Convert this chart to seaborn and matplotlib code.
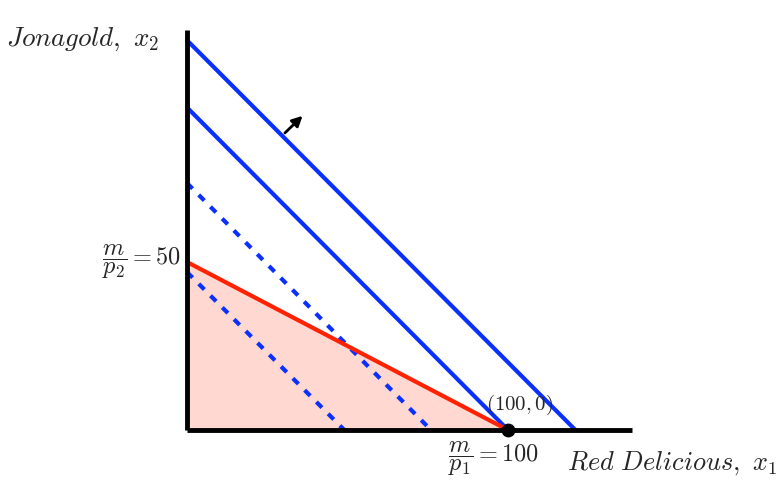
import matplotlib
matplotlib.use("Agg")
import matplotlib.pyplot as plt
import seaborn as sns
import numpy as np
import pandas as pd

# Data (in goods units)
budget_x = [0, 100]          # m/p1 = 100
budget_y = [50, 0]           # m/p2 = 50
# indifference lines: (x-intercept, y-intercept)
ic_solid = [(100, 96), (121, 116)]
ic_dashed = [(49, 47), (76, 73.5)]
axis_xmax = 138.5
axis_ymax = 119
opt_point = (100, 0)

sns.set_style("white")
plt.rcParams["mathtext.fontset"] = "cm"
plt.rcParams["font.family"] = ["DejaVu Serif"]

fig = plt.figure(figsize=(7.79, 4.83), dpi=100)
ax = fig.add_axes([0, 0, 1, 1])
ax.set_xlim(-187 / 3.21, (779 - 187) / 3.21)
ax.set_ylim((430 - 483) / 3.36, 430 / 3.36)
ax.axis("off")

red = "#ff2200"
blue = "#0a30ff"

# shaded budget set
ax.fill_between(budget_x, budget_y, 0, color="#ffd8d2", zorder=1, lw=0)

# indifference curves
for xi, yi in ic_dashed:
    df = pd.DataFrame({"x": [0, xi], "y": [yi, 0]})
    sns.lineplot(data=df, x="x", y="y", ax=ax, color=blue, lw=3.0,
                 linestyle=(0, (1.9, 2.1)), zorder=2)
for xi, yi in ic_solid:
    df = pd.DataFrame({"x": [0, xi], "y": [yi, 0]})
    sns.lineplot(data=df, x="x", y="y", ax=ax, color=blue, lw=3.0, zorder=2)

# budget line
sns.lineplot(x=budget_x, y=budget_y, ax=ax, color=red, lw=3.0, zorder=3)

# axes
ax.plot([0, axis_xmax], [0, 0], color="black", lw=3.5, zorder=4, solid_capstyle="butt")
ax.plot([0, 0], [0, axis_ymax], color="black", lw=3.5, zorder=4, solid_capstyle="butt")

# optimum point
ax.scatter([opt_point[0]], [opt_point[1]], s=80, color="black", zorder=5)

# arrow
ax.annotate("", xy=(36.0, 93.5), xytext=(30.5, 88.4),
            arrowprops=dict(arrowstyle="-|>,head_length=0.55,head_width=0.28",
                            color="black", lw=2.0, mutation_scale=11,
                            shrinkA=0, shrinkB=0))

fs = 19.5
ax.text(-56.5, 116.3, r"$Jonagold,\ x_2$", fontsize=fs, ha="left", va="center")
ax.text(-2, 50, r"$\dfrac{m}{p_2} = 50$", fontsize=17.5, ha="right", va="center")
ax.text(103.5, 7.5, r"$(100, 0)$", fontsize=15, ha="center", va="center")
ax.text(95.5, -8.5, r"$\dfrac{m}{p_1} = 100$", fontsize=17.5, ha="center", va="center")
ax.text(118.5, -9.8, r"$Red\ Delicious,\ x_1$", fontsize=19, ha="left", va="center")

fig.savefig("out.png", dpi=100)
